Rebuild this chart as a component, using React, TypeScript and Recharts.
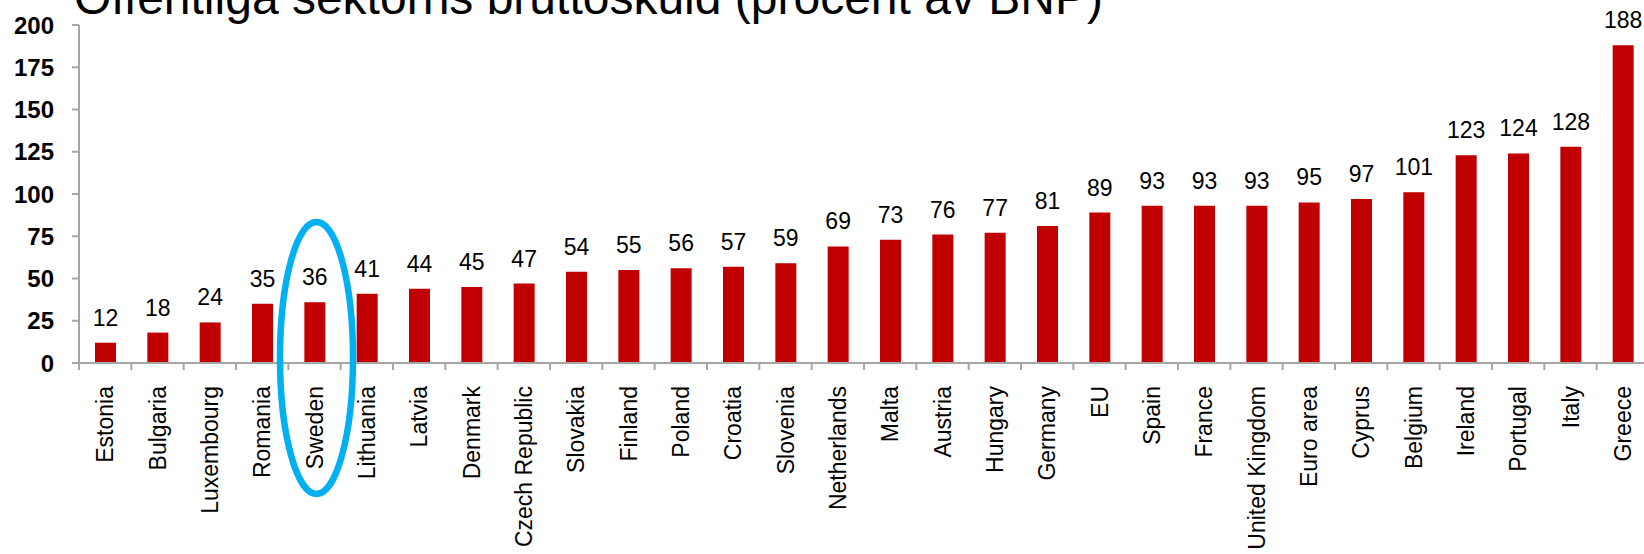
import React from "react";
import {
  BarChart,
  Bar,
  XAxis,
  YAxis,
  LabelList,
  ReferenceDot,
} from "recharts";

// Offentliga sektorns bruttoskuld, procent av BNP
const countries = [
  "Estonia", "Bulgaria", "Luxembourg", "Romania", "Sweden", "Lithuania",
  "Latvia", "Denmark", "Czech Republic", "Slovakia", "Finland", "Poland",
  "Croatia", "Slovenia", "Netherlands", "Malta", "Austria", "Hungary",
  "Germany", "EU", "Spain", "France", "United Kingdom", "Euro area",
  "Cyprus", "Belgium", "Ireland", "Portugal", "Italy", "Greece",
];

const debt = [
  12, 18, 24, 35, 36, 41, 44, 45, 47, 54, 55, 56, 57, 59, 69,
  73, 76, 77, 81, 89, 93, 93, 93, 95, 97, 101, 123, 124, 128, 188,
];

const yTicks = [0, 25, 50, 75, 100, 125, 150, 175, 200];

const title = "Offentliga sektorns bruttoskuld (procent av BNP)";
const highlighted = "Sweden";

const FONT = "'Liberation Sans', Arial, Helvetica, sans-serif";
const BAR_RED = "#C00000";
const AXIS_GRAY = "#A6A6A6";
const RING_BLUE = "#00B0F0";

const CHART_W = 1649;
const CHART_H = 554;
const Y_AXIS_W = 79;

const data = countries.map((name, i) => ({ name, value: debt[i] }));

// tick mellan kategorierna (som i Excel) + roterad etikett
const CategoryTick = (props: any) => {
  const { x, y, payload } = props;
  const half =
    payload && typeof payload.offset === "number" && payload.offset > 0
      ? payload.offset
      : (CHART_W - Y_AXIS_W) / countries.length / 2;
  return (
    <g>
      <line
        x1={x - half}
        x2={x - half}
        y1={y}
        y2={y + 7}
        stroke={AXIS_GRAY}
        strokeWidth={2}
      />
      <text
        x={x}
        y={y + 23}
        dy="0.36em"
        textAnchor="end"
        fill="#000"
        fontSize={23}
        fontFamily={FONT}
        transform={`rotate(-90 ${x} ${y + 23})`}
      >
        {payload.value}
      </text>
    </g>
  );
};

const Ring = (props: any) => {
  const { cx, cy } = props;
  if (cx == null || cy == null) return null;
  return (
    <ellipse
      cx={cx + 2}
      cy={cy}
      rx={36.5}
      ry={136}
      fill="none"
      stroke={RING_BLUE}
      strokeWidth={6.5}
    />
  );
};

export default function App() {
  return (
    <div
      style={{
        position: "absolute",
        left: 0,
        top: 0,
        width: 1644,
        height: CHART_H,
        overflow: "hidden",
        background: "#fff",
      }}
    >
      <BarChart
        width={CHART_W}
        height={CHART_H}
        data={data}
        margin={{ top: 25, right: 0, bottom: 0, left: 0 }}
        barSize={21}
      >
        <XAxis
          dataKey="name"
          interval={0}
          height={191}
          tickSize={0}
          tickMargin={0}
          tickLine={false}
          axisLine={{ stroke: AXIS_GRAY, strokeWidth: 2 }}
          tick={<CategoryTick />}
        />
        <YAxis
          width={Y_AXIS_W}
          domain={[0, 200]}
          ticks={yTicks}
          interval={0}
          tickSize={7}
          tickMargin={18}
          axisLine={{ stroke: AXIS_GRAY, strokeWidth: 2 }}
          tickLine={{ stroke: AXIS_GRAY, strokeWidth: 2 }}
          tick={{
            fill: "#000",
            fontSize: 24,
            fontWeight: "bold",
            fontFamily: FONT,
          }}
        />
        <Bar dataKey="value" fill={BAR_RED} isAnimationActive={false}>
          <LabelList
            dataKey="value"
            position="top"
            offset={17}
            fill="#000"
            fontSize={23}
            fontFamily={FONT}
          />
        </Bar>
        <ReferenceDot
          x={highlighted}
          y={3}
          r={0}
          ifOverflow="visible"
          shape={<Ring />}
        />
      </BarChart>
      <svg
        width={1644}
        height={60}
        style={{ position: "absolute", left: 0, top: 0, pointerEvents: "none" }}
      >
        <text x={74} y={14} fontSize={48} fontFamily={FONT} fill="#000">
          {title}
        </text>
      </svg>
    </div>
  );
}
